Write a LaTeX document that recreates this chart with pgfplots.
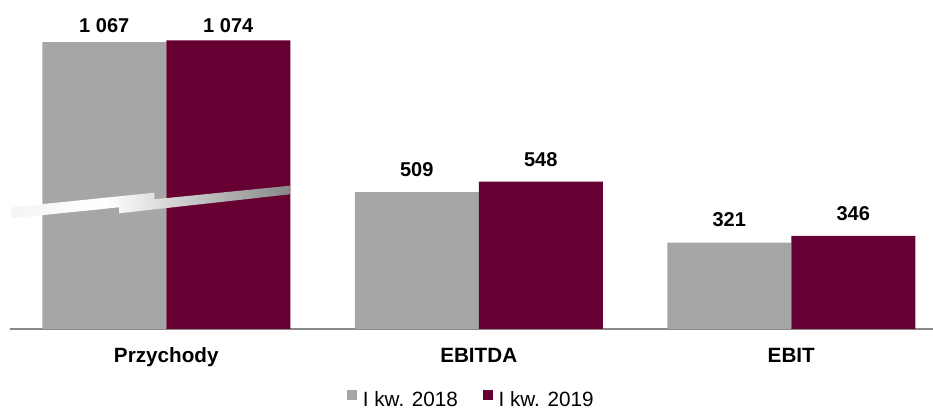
\documentclass[border=0pt]{standalone}
\usepackage{fontspec}
\setmainfont{Liberation Sans}
\usepackage{pgfplots}
\pgfplotsset{compat=1.18}
\definecolor{bargray}{HTML}{A6A6A6}
\definecolor{barred}{HTML}{660033}
\definecolor{axgray}{HTML}{888888}
\definecolor{brkgray}{HTML}{878787}
\pgfdeclarehorizontalshading{brk}{100bp}{color(0bp)=(white!96!black); color(25bp)=(white!96!black); color(42bp)=(white); color(75bp)=(brkgray); color(100bp)=(brkgray)}
\pgfplotsset{sqlegend/.style={legend image code/.code={\fill[##1] (0pt,0pt) rectangle (7.5pt,7.5pt);}}}
\begin{document}
\begin{tikzpicture}
\useasboundingbox (0,0) rectangle (699.75pt,307.5pt);
\begin{axis}[
  at={(7.5pt,60.75pt)}, anchor=south west,
  scale only axis, width=692.25pt, height=246.75pt,
  xmin=-0.5, xmax=2.4536, ymin=0, ymax=1224,
  clip=false,
  axis x line*=bottom, axis y line=none,
  axis line style={draw=axgray, line width=1.5pt, -},
  xtick={0,1,2}, xticklabels={Przychody,EBITDA,EBIT},
  major tick length=0pt,
  xticklabel style={anchor=base, yshift=-25pt, inner sep=0pt, font=\fontsize{15.5}{18}\selectfont\bfseries},
  legend columns=2,
  legend style={at={(0.4986,-0.2410)}, anchor=south, draw=none, fill=none,
    inner sep=0pt, outer sep=0pt, font=\fontsize{15.5}{18}\selectfont,
    nodes={inner sep=0pt},
    /tikz/every odd column/.append style={column sep=4.5pt},
    /tikz/every even column/.append style={column sep=18.5pt}},
]
\addplot[ybar, sqlegend, bar width=0.3968, bar shift=-0.1984, fill=bargray, draw=none]
  coordinates {(0,1067) (1,509) (2,321)};
\addlegendentry{I kw. 2018}
\addplot[ybar, sqlegend, bar width=0.3968, bar shift=0.1984, fill=barred, draw=none]
  coordinates {(0,1074) (1,548) (2,346)};
\addlegendentry{I kw. 2019}
% value labels
\addplot[draw=none, mark=none, forget plot, nodes near coords, point meta=explicit symbolic,
  every node near coord/.append style={anchor=base, inner sep=0pt, font=\fontsize{15}{18}\selectfont\bfseries, text=black}]
  coordinates {(-0.1984,1103.8) [1~067] (0.1984,1103.8) [1~074] (0.8016,565.5) [509] (1.1984,606.4) [548] (1.8016,379.5) [321] (2.1984,405.5) [346]};
% axis break decoration
\shade[shading=brk] (axis cs:-0.4946,452.8) -- (axis cs:-0.0382,507.1) -- (axis cs:-0.0382,482.5)
  -- (axis cs:0.396,533.1) -- (axis cs:0.396,501.1) -- (axis cs:-0.1512,430.4)
  -- (axis cs:-0.1512,452.8) -- (axis cs:-0.4946,411.8) -- cycle;
\end{axis}
\end{tikzpicture}
\end{document}
